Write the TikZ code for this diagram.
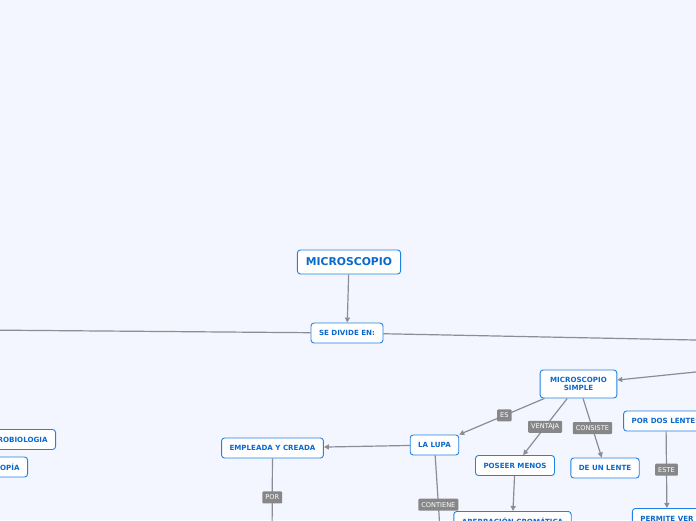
\documentclass[tikz,border=0pt]{standalone}
\usepackage{fontspec}
\setmainfont{DejaVu Sans}
\usetikzlibrary{arrows.meta}
\definecolor{bgc}{RGB}{243,246,254}
\definecolor{nodeblue}{RGB}{30,130,230}
\definecolor{txtblue}{RGB}{10,105,205}
\definecolor{linegray}{RGB}{140,140,150}
\definecolor{labgray}{RGB}{135,135,138}
\tikzset{
  box/.style={draw=nodeblue, fill=white, rounded corners=3pt, line width=0.9pt,
    text=txtblue, font=\fontsize{7.1}{8.2}\selectfont\bfseries, inner xsep=8pt,
    inner ysep=2pt, minimum height=20pt, align=center},
  bigbox/.style={box, font=\fontsize{10.8}{12}\selectfont\bfseries, minimum height=24pt, inner xsep=8.5pt},
  lab/.style={fill=labgray, text=white, font=\fontsize{6.6}{7}\selectfont,
    inner xsep=3pt, inner ysep=1.5pt, minimum height=12pt, rounded corners=1pt},
  conn/.style={draw=linegray, line width=1.2pt},
  arr/.style={conn, -{Triangle[length=5pt,width=5pt]}}
}
\begin{document}
\begin{tikzpicture}[x=1pt,y=-1pt]
\fill[bgc] (0,0) rectangle (696,520);
\useasboundingbox (0,0) rectangle (696,520);
\clip (0,0) rectangle (696,520);

\node[bigbox] (m) at (349,262) {MICROSCOPIO};
\node[box] (sd) at (347,333) {SE DIVIDE EN:};
\node[box, minimum height=28pt, inner xsep=10pt] (ms) at (578.5,384) {MICROSCOPIO\\SIMPLE};
\node[box] (lupa) at (434.5,445) {LA LUPA};
\node[box] (pm) at (515,465.5) {POSEER MENOS};
\node[box] (dul) at (605,468) {DE UN LENTE};
\node[box] (pdl) at (666,421) {POR DOS LENTES};
\node[box, anchor=north] (pv) at (667,508) {PERMITE VER};
\node[box, anchor=north] (ab) at (512.5,511) {ABERRACIÓN CROMÁTICA};
\node[box] (emp) at (272.5,448) {EMPLEADA Y CREADA};
\node[box, anchor=east] (mb) at (56,439.5) {MICROBIOLOGIA};
\node[box, anchor=east] (mc) at (28,467) {MICROSCOPÍA};

\coordinate (leftend) at (-20,330);
\coordinate (rightend) at (720,340.5);
\coordinate (msin) at (720,369.5);
\coordinate (lupadown) at (441,545);
\coordinate (empdown) at (272,545);

\draw[arr] (m) -- (sd);
\draw[conn] (sd) -- (leftend);
\draw[conn] (sd) -- (rightend);
\draw[arr] (msin) -- (ms);
\draw[arr] (ms) -- node[lab, pos=0.47] {ES} (lupa);
\draw[arr] (ms) -- node[lab, pos=0.5] {VENTAJA} (pm);
\draw[arr] (ms) -- node[lab, pos=0.5] {CONSISTE} (dul);
\draw[arr] (pdl) -- node[lab, pos=0.5] {ESTE} (pv);
\draw[arr] (pm) -- (ab);
\draw[arr] (lupa) -- (emp);
\draw[conn] (lupa) -- node[lab, pos=0.55] {CONTIENE} (lupadown);
\draw[conn] (emp) -- node[lab, pos=0.45] {POR} (empdown);
\end{tikzpicture}
\end{document}
